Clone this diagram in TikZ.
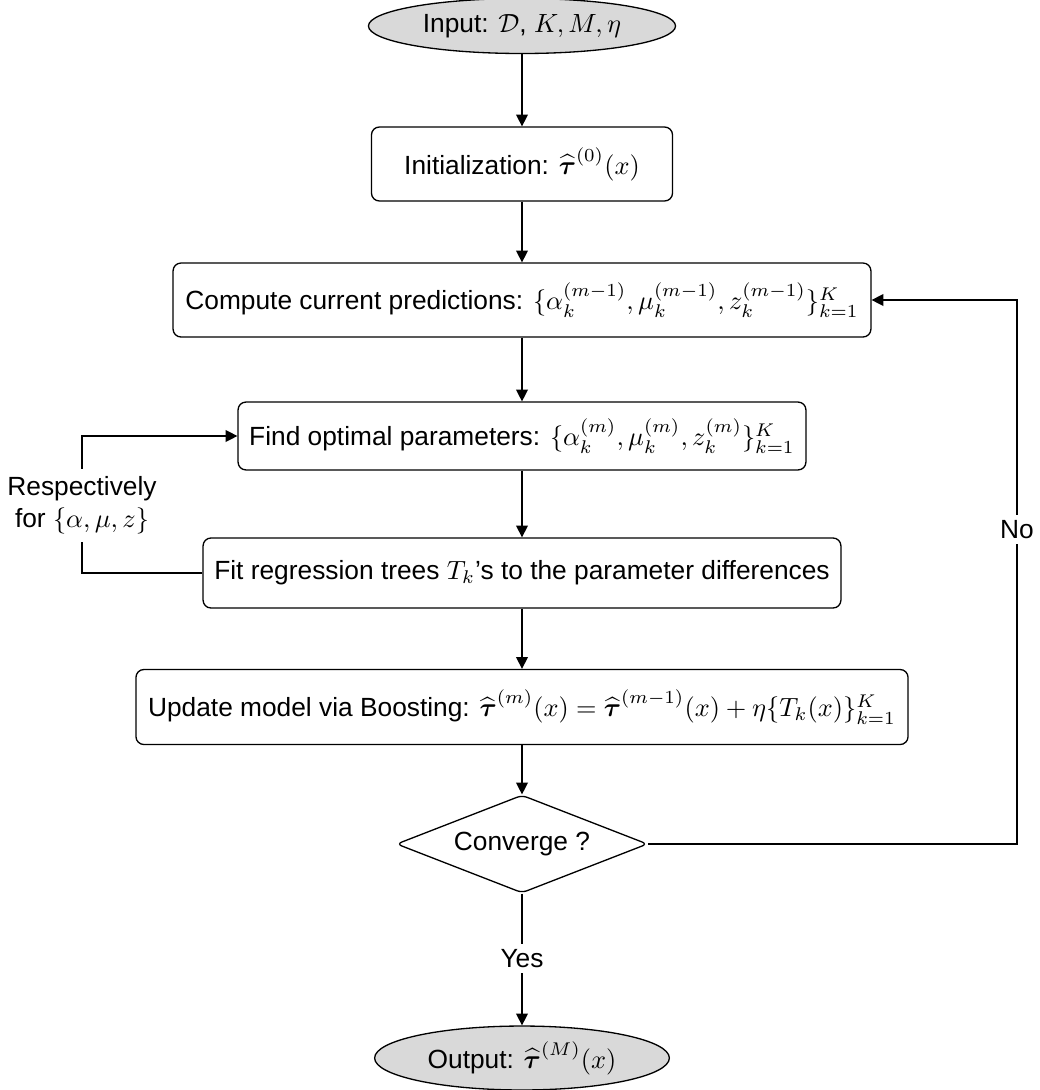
\documentclass[tikz,border=0pt]{standalone}
\usepackage{amsmath}
\usepackage[no-math]{fontspec}
\setmainfont{Liberation Sans}
\usetikzlibrary{shapes.geometric,arrows.meta}
\tikzset{
  base/.style={draw, line width=0.5pt, inner sep=0pt, font=\normalsize},
  terminal/.style={base, ellipse, fill=black!15},
  procbox/.style={base, rectangle, rounded corners=3pt},
  decision/.style={base, diamond, rounded corners=2pt},
  arrow/.style={line width=0.5pt, -{Triangle[length=4.5pt,width=4.5pt]}},
  lbl/.style={fill=white, inner sep=2pt, align=center}
}
\begin{document}
\begin{tikzpicture}[x=0.38pt, y=-0.38pt]
\useasboundingbox (0,0) rectangle (1040,1090);
\node[terminal, minimum width=116.7pt, minimum height=20.9pt] (in) at (522,26)
  {Input: $\mathcal{D}$, $K, M, \eta$};
\node[procbox, minimum width=114.4pt, minimum height=28.1pt] (init) at (522,164)
  {Initialization: $\widehat{\boldsymbol{\tau}}^{(0)}(x)$};
\node[procbox, minimum width=265.2pt, minimum height=28.1pt] (comp) at (522,300)
  {Compute current predictions: $\{\alpha_k^{(m-1)}, \mu_k^{(m-1)}, z_k^{(m-1)}\}_{k=1}^K$};
\node[procbox, minimum width=215.8pt, minimum height=25.8pt] (find) at (522,436)
  {Find optimal parameters: $\{\alpha_k^{(m)}, \mu_k^{(m)}, z_k^{(m)}\}_{k=1}^K$};
\node[procbox, minimum width=242.4pt, minimum height=26.6pt] (fit) at (522,573)
  {Fit regression trees $T_k$'s to the parameter differences};
\node[procbox, minimum width=293.4pt, minimum height=28.5pt] (upd) at (522,707)
  {Update model via Boosting: $\widehat{\boldsymbol{\tau}}^{(m)}(x) = \widehat{\boldsymbol{\tau}}^{(m-1)}(x) + \eta\{T_k(x)\}_{k=1}^K$};
\node[decision, minimum width=95.4pt, minimum height=37.2pt, aspect=2.56] (conv) at (522,844)
  {Converge ?};
\node[terminal, minimum width=112pt, minimum height=24.3pt] (out) at (522,1058)
  {Output: $\widehat{\boldsymbol{\tau}}^{(M)}(x)$};

\coordinate (nc) at (1017,300);
\coordinate (rc) at (82,436);

\draw[arrow] (in) -- (init);
\draw[arrow] (init) -- (comp);
\draw[arrow] (comp) -- (find);
\draw[arrow] (find) -- (fit);
\draw[arrow] (fit) -- (upd);
\draw[arrow] (upd) -- (conv);
\draw[arrow] (conv.south) -- node[lbl, pos=0.49] {Yes} (out.north);
\draw[arrow] (conv.east) -| node[lbl, pos=0.789] {No} (nc) -- (comp.east);
\draw[arrow] (fit.west) -| node[lbl, pos=0.748, inner sep=3pt] {Respectively\\for $\{\alpha, \mu, z\}$} (rc) -- (find.west);
\end{tikzpicture}
\end{document}
